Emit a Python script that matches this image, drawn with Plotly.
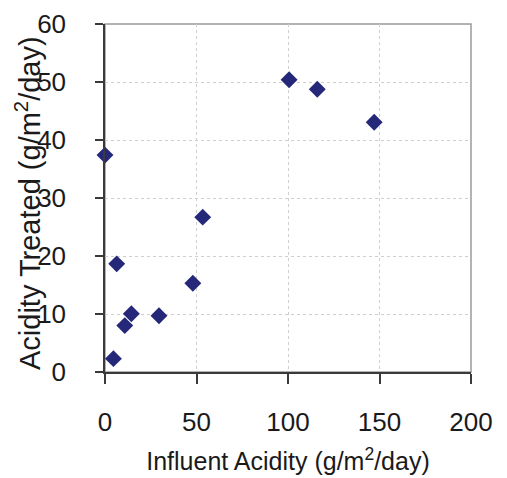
import plotly.graph_objects as go

influent_acidity = [0, 4.6, 6.4, 10.8, 14.4, 29.5, 48, 53.4, 100.6, 116, 147.1]
acidity_treated = [37.4, 2.3, 18.65, 8.0, 10.05, 9.7, 15.3, 26.7, 50.4, 48.75, 43.06]

x_ticks = [0, 50, 100, 150, 200]
y_ticks = [0, 10, 20, 30, 40, 50, 60]

REG = "Liberation Sans, Arial, sans-serif"
INK = "#1a1a1a"

fig = go.Figure()
fig.add_trace(go.Scatter(
    x=influent_acidity, y=acidity_treated, mode="markers",
    marker=dict(symbol="diamond", size=13, color="#252878", line=dict(width=0)),
    showlegend=False, cliponaxis=False,
))

fig.update_layout(
    width=499, height=470,
    margin=dict(l=97, r=36, t=16, b=106, autoexpand=False),
    paper_bgcolor="white", plot_bgcolor="white",
    font=dict(family=REG, color=INK),
    xaxis=dict(
        range=[0, 200], tickvals=x_ticks, ticktext=[str(v) for v in x_ticks],
        showgrid=True, gridcolor="#cfcfcf", griddash="dot", gridwidth=1,
        showline=True, linecolor="#3a3a3a", linewidth=1.5,
        ticks="outside", ticklen=10, tickcolor="#3a3a3a", tickwidth=1.5,
        tickfont=dict(size=26, family=REG, color=INK),
        ticklabelposition="outside", ticklabelstandoff=16, automargin=False,
        zeroline=False,
        title=dict(text="Influent Acidity (g/m<sup>2</sup>/day)",
                   font=dict(size=25, family=REG, color=INK), standoff=17),
    ),
    yaxis=dict(
        range=[0, 60], tickvals=y_ticks, ticktext=[str(v) for v in y_ticks],
        showgrid=True, gridcolor="#cfcfcf", griddash="dot", gridwidth=1,
        showline=True, linecolor="#3a3a3a", linewidth=1.5,
        ticks="outside", ticklen=8, tickcolor="#3a3a3a", tickwidth=1.5,
        tickfont=dict(size=26, family=REG, color=INK),
        ticklabelposition="outside", ticklabelstandoff=24, automargin=False,
        zeroline=False,
    ),
    annotations=[dict(
        text="Acidity Treated (g/m<sup>2</sup>/day)", textangle=-90, showarrow=False,
        xref="paper", yref="paper", x=0, y=0.5, xanchor="center", yanchor="middle",
        xshift=-77, yshift=-5,
        font=dict(size=29, family=REG, color=INK),
    )],
    shapes=[dict(type="rect", xref="x domain", yref="y domain", x0=0, x1=1, y0=0, y1=1,
                 line=dict(color="#9a9a9a", width=1.5), layer="below")],
)

fig.write_html("out.html")
